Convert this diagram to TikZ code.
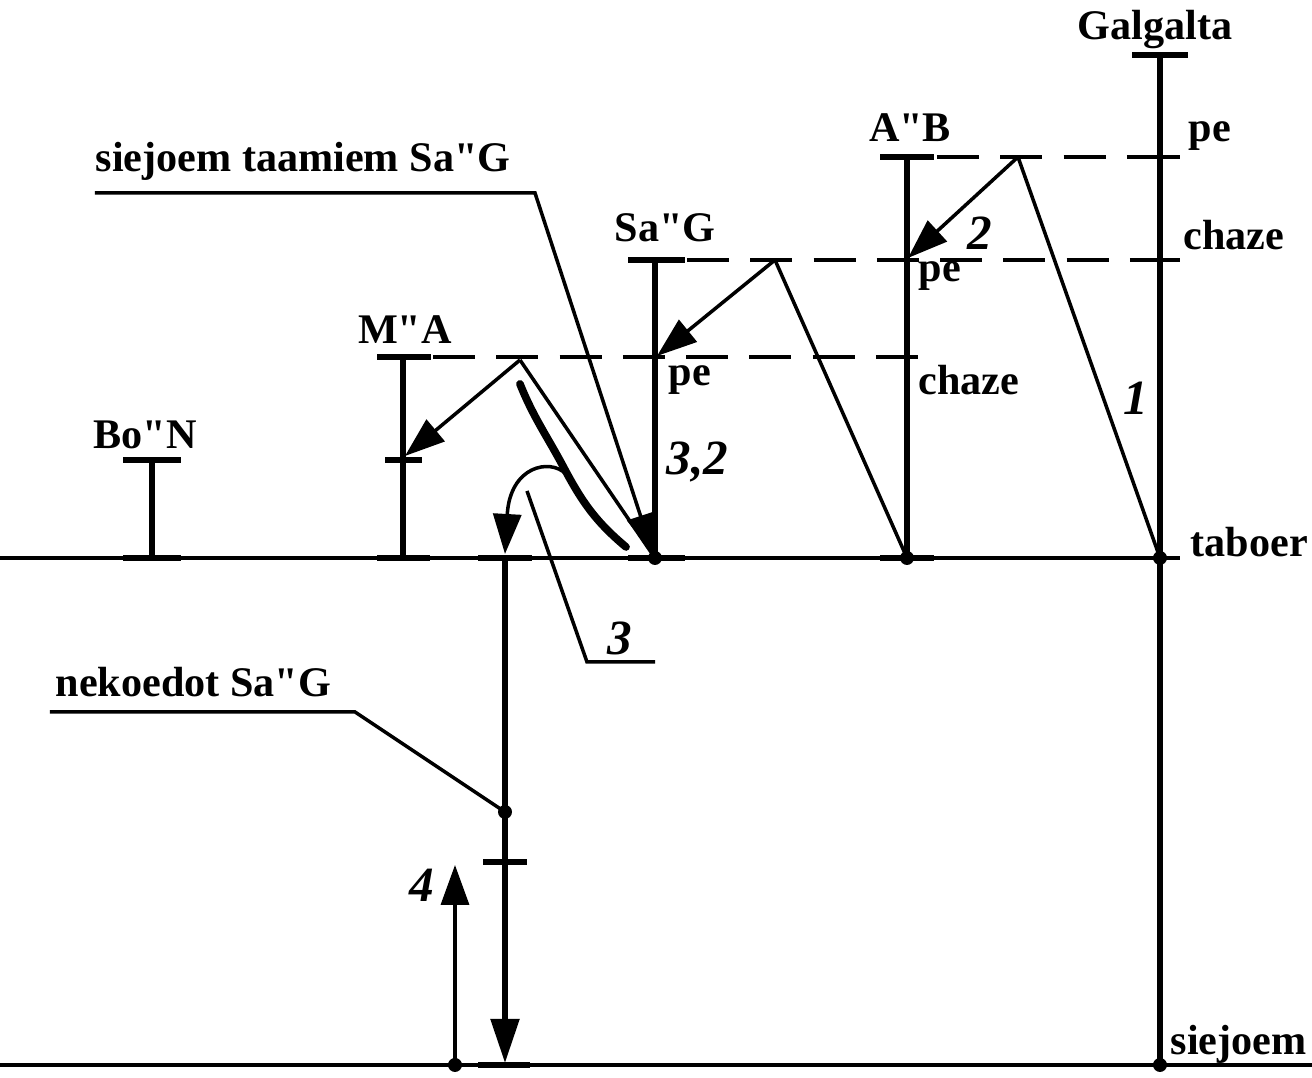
\documentclass[tikz,border=0pt]{standalone}
\usepackage{fontspec}
\setmainfont{Liberation Serif}[Ligatures=TeXOff]
\usepackage{tikz}
\usetikzlibrary{arrows.meta, positioning, calc}

\begin{document}
\begin{tikzpicture}[
    lbl/.style={font=\bfseries\fontsize{12}{14}\selectfont, inner sep=0pt},
    num/.style={font=\bfseries\itshape\fontsize{14}{16}\selectfont, inner sep=0pt},
    level/.style={line width=1pt},
    stem/.style={line width=1.5pt},
    bar/.style={line width=1.5pt},
    dashline/.style={line width=1pt, dash pattern=on 12pt off 6pt},
    arrow/.style={line width=1pt, -{Triangle[length=4mm,width=2.8mm]}},
    bigarrow/.style={line width=1.5pt, -{Triangle[length=4.4mm,width=2.8mm]}},
    dot/.style={circle, fill, inner sep=0pt, minimum size=1.4mm}
]
\useasboundingbox (0,0) rectangle (13.12,10.78);

% levels
\coordinate (tabL) at (0,5.20);
\coordinate (tabR) at (11.80,5.20);
\coordinate (sieL) at (0,0.13);
\coordinate (sieR) at (13.12,0.13);
\draw [level] (tabL) -- (tabR);
\draw [level] (sieL) -- (sieR);

% Galgalta
\coordinate (galTop) at (11.60,10.23);
\coordinate (galPe) at (11.60,9.21);
\coordinate (galChaze) at (11.60,8.18);
\node (galTab) [dot] at (11.60,5.20) {};
\node (galSie) [dot] at (11.60,0.13) {};
\draw [stem] (galTop) -- (galSie.center);
\draw [bar] ($(galTop)+(-0.28,0)$) -- ($(galTop)+(0.28,0)$);
\draw [level] ($(galPe)+(-0.17,0)$) -- ($(galPe)+(0.20,0)$);
\draw [level] ($(galChaze)+(-0.17,0)$) -- ($(galChaze)+(0.20,0)$);
\node (galgalta) [lbl] at (11.55,10.48) {Galgalta};
\node (galPeTxt) [lbl, anchor=west] at (11.88,9.42) {pe};
\node (galChazeTxt) [lbl, anchor=west] at (11.83,8.43) {chaze};
\node (taboer) [lbl, anchor=west] at (11.90,5.36) {taboer};
\node (siejoem) [lbl, anchor=west] at (11.70,0.34) {siejoem};

% A"B
\coordinate (abTop) at (9.07,9.21);
\node (abTab) [dot] at (9.07,5.20) {};
\draw [stem] (abTop) -- (abTab.center);
\draw [bar] ($(abTop)+(-0.27,0)$) -- ($(abTop)+(0.27,0)$);
\draw [bar] ($(abTab)+(-0.27,0)$) -- ($(abTab)+(0.27,0)$);
\node (ab) [lbl] at (9.10,9.50) {A"B};
\node (abPeTxt) [lbl, anchor=west] at (9.18,8.02) {pe};
\node (abChazeTxt) [lbl, anchor=west] at (9.18,6.98) {chaze};

% Sa"G
\coordinate (sgTop) at (6.55,8.18);
\node (sgTab) [dot] at (6.55,5.20) {};
\draw [stem] (sgTop) -- (sgTab.center);
\draw [bar] ($(sgTop)+(-0.27,0)$) -- ($(sgTop)+(0.30,0)$);
\draw [bar] ($(sgTab)+(-0.27,0)$) -- ($(sgTab)+(0.30,0)$);
\node (sg) [lbl] at (6.65,8.50) {Sa"G};
\node (sgPeTxt) [lbl, anchor=west] at (6.68,6.98) {pe};
\node (sgNum) [num, anchor=west] at (6.66,6.16) {3,2};

% M"A
\coordinate (maTop) at (4.03,7.21);
\coordinate (maTick) at (4.03,6.18);
\coordinate (maTab) at (4.03,5.20);
\draw [stem] (maTop) -- (maTab);
\draw [bar] ($(maTop)+(-0.26,0)$) -- ($(maTop)+(0.28,0)$);
\draw [bar] ($(maTick)+(-0.18,0)$) -- ($(maTick)+(0.19,0)$);
\draw [bar] ($(maTab)+(-0.26,0)$) -- ($(maTab)+(0.27,0)$);
\node (ma) [lbl] at (4.05,7.48) {M"A};

% Bo"N
\coordinate (bnTop) at (1.52,6.18);
\coordinate (bnTab) at (1.52,5.20);
\draw [stem] (bnTop) -- (bnTab);
\draw [bar] ($(bnTop)+(-0.29,0)$) -- ($(bnTop)+(0.29,0)$);
\draw [bar] ($(bnTab)+(-0.29,0)$) -- ($(bnTab)+(0.29,0)$);
\node (bn) [lbl] at (1.45,6.43) {Bo"N};

% dashed levels
\draw [dashline] (9.37,9.21) -- (galPe);
\draw [dashline] (6.87,8.18) -- (galChaze);
\draw [dashline] (4.33,7.21) -- (9.30,7.21);

% zigzag 1, 2
\coordinate (z1) at (10.18,9.21);
\coordinate (z2) at (7.75,8.18);
\coordinate (z3) at (5.20,7.18);
\draw [level] (galTab.center) -- (z1);
\draw [arrow] (z1) -- (9.08,8.20);
\draw [level] (abTab.center) -- (z2);
\draw [arrow] (z2) -- (6.57,7.22);
\draw [level] (sgTab.center) -- (z3);
\draw [arrow] (z3) -- (4.05,6.22);
\node (one) [num] at (11.36,6.80) {1};
\node (two) [num] at (9.80,8.45) {2};

% siejoem taamiem Sa"G
\coordinate (stA) at (0.95,8.85);
\coordinate (stB) at (5.35,8.85);
\draw [arrow] (stA) -- (stB) -- (6.53,5.24);
\node (sieTaam) [lbl, anchor=south west] at (0.95,8.97) {siejoem taamiem Sa"G};

% hand stroke and arc 3
\draw [line width=2.2pt, line cap=round] (5.20,6.94) to[out=-68,in=118] (5.64,6.10) to[out=-62,in=140] (6.26,5.31);
\coordinate (arcR) at (5.66,6.04);
\draw [arrow] (arcR) .. controls (5.50,6.20) and (5.10,6.12) .. (5.05,5.24);
\coordinate (leadA) at (5.27,5.87);
\coordinate (leadB) at (5.87,4.16);
\coordinate (leadC) at (6.55,4.16);
\draw [level] (leadA) -- (leadB) -- (leadC);
\node (three) [num] at (6.20,4.40) {3};

% nekoedot Sa"G
\coordinate (nkTab) at (5.05,5.20);
\coordinate (nkTick) at (5.05,2.16);
\node (nkDot) [dot] at (5.05,2.66) {};
\draw [bigarrow] (nkTab) -- (5.05,0.15);
\draw [bar] ($(nkTab)+(-0.27,0)$) -- ($(nkTab)+(0.27,0)$);
\draw [bar] ($(nkTick)+(-0.22,0)$) -- ($(nkTick)+(0.22,0)$);
\draw [bar] (4.78,0.13) -- (5.30,0.13);
\draw [level] (0.50,3.66) -- (3.55,3.66) -- (nkDot.center);
\node (nekoedot) [lbl, anchor=south west] at (0.55,3.80) {nekoedot Sa"G};

% 4
\node (fourDot) [dot] at (4.55,0.13) {};
\draw [arrow] (fourDot.center) -- (4.55,2.13);
\node (four) [num] at (4.22,1.93) {4};
\end{tikzpicture}
\end{document}
